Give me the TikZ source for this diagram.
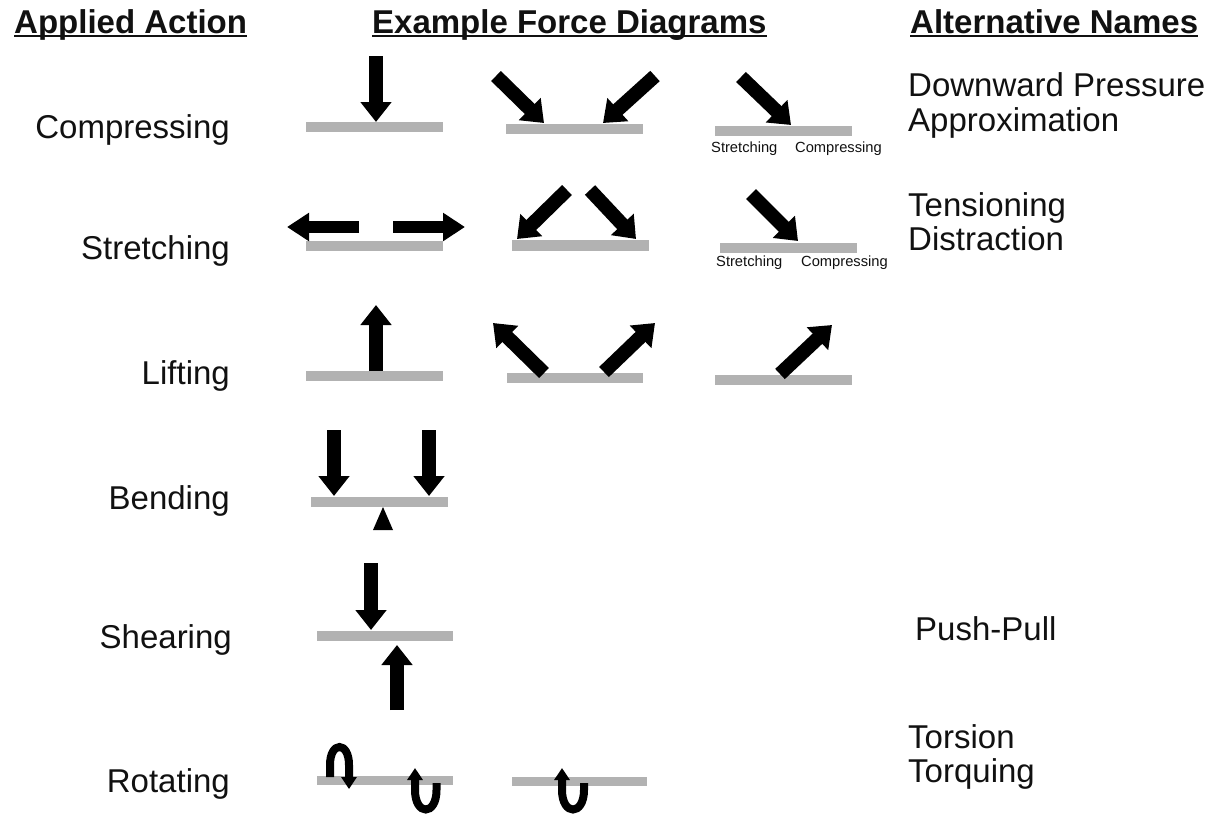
\documentclass[tikz,border=0pt]{standalone}
\usepackage{fontspec}
\setmainfont{Liberation Sans}
\usetikzlibrary{arrows.meta}
\definecolor{barcol}{RGB}{178,178,178}
\definecolor{inkcol}{RGB}{17,17,17}
\begin{document}
\begin{tikzpicture}[x=1pt,y=-1pt,
  head/.style={inner sep=0pt, anchor=base west, font=\fontsize{33}{35}\selectfont\bfseries, text=inkcol},
  label/.style={inner sep=0pt, anchor=base east, font=\fontsize{33}{35}\selectfont, text=inkcol},
  altname/.style={inner sep=0pt, anchor=base west, font=\fontsize{33}{35}\selectfont, text=inkcol},
  tiny/.style={inner sep=0pt, anchor=base west, font=\fontsize{14.7}{16}\selectfont, text=inkcol},
  force/.style={draw=black, line width=14pt, -{Triangle[length=20pt,width=30pt]}},
  thinforce/.style={draw=black, line width=12.5pt, -{Triangle[length=22pt,width=27pt]}},
  twist/.style={draw=black, line width=8pt, -{Triangle[length=12pt,width=15pt]}},
  beam/.style={fill=barcol}]

\fill[white] (0,0) rectangle (1212,814);
\useasboundingbox (0,0) rectangle (1212,814);

% column headings
\node[head] (h1) at (14,33) {Applied Action};
\node[head] (h2) at (372,33) {Example Force Diagrams};
\node[head] (h3) at (910,33) {Alternative Names};
\foreach \h in {h1,h2,h3}
  \draw[inkcol, line width=2pt] ([yshift=-3pt]\h.base west) -- ([yshift=-3pt]\h.base east);

% applied actions
\node[label] (compress) at (230,138) {Compressing};
\node[label] (stretch)  at (230,259) {Stretching};
\node[label] (lift)     at (230,384) {Lifting};
\node[label] (bend)     at (230,509) {Bending};
\node[label] (shear)    at (232,648) {Shearing};
\node[label] (rotate)   at (230,792) {Rotating};

% alternative names
\node[altname] (alt1a) at (908,96)  {Downward Pressure};
\node[altname] (alt1b) at (908,131) {Approximation};
\node[altname] (alt2a) at (908,216) {Tensioning};
\node[altname] (alt2b) at (908,250) {Distraction};
\node[altname] (alt5)  at (915,640) {Push-Pull};
\node[altname] (alt6a) at (908,748) {Torsion};
\node[altname] (alt6b) at (908,782) {Torquing};

% ---- compressing
\fill[beam] (306,122) rectangle (443,132);
\draw[force] (376,56) -- (376,122);
\fill[beam] (506,124) rectangle (643,134);
\draw[force] (496,76) -- (544,123);
\draw[force] (655,76) -- (603,123);
\fill[beam] (715,126) rectangle (852,136);
\draw[force] (741,77) -- (791,125);
\node[tiny] (c3s) at (711,152.5) {Stretching};
\node[tiny] (c3c) at (795,152.5) {Compressing};

% ---- stretching
\fill[beam] (306,241) rectangle (443,251);
\draw[thinforce] (359,227) -- (287,227);
\draw[thinforce] (393,227) -- (465,227);
\fill[beam] (512,240) rectangle (649,251);
\draw[force] (567,190) -- (517,239);
\draw[force] (590,190) -- (636,239);
\fill[beam] (720,243) rectangle (857,253);
\draw[force] (751,194) -- (798,241);
\node[tiny] (s3s) at (716,266.5) {Stretching};
\node[tiny] (s3c) at (801,266.5) {Compressing};

% ---- lifting
\fill[beam] (306,371) rectangle (443,381);
\draw[force] (376,371) -- (376,305);
\fill[beam] (507,373) rectangle (643,383);
\draw[force] (544,373) -- (493,323);
\draw[force] (604,372) -- (655,323);
\fill[beam] (715,375) rectangle (852,385);
\draw[force] (780,374) -- (832,325);

% ---- bending
\fill[beam] (311,497) rectangle (448,507);
\draw[force] (334,430) -- (334,496);
\draw[force] (429,430) -- (429,496);
\fill[black] (383,507) -- (393,530) -- (373,530) -- cycle;

% ---- shearing
\fill[beam] (317,631) rectangle (453,641);
\draw[force] (371,563) -- (371,630);
\draw[force] (397,710) -- (397,645);

% ---- rotating
\fill[beam] (317,776) rectangle (453,785);
\draw[twist] (330,777) -- (330,765) .. controls (330,741) and (349,741) .. (349,765) -- (349,789);
\draw[twist] (436.5,783) -- (436.5,790) .. controls (436.5,816) and (415,816) .. (415,790) -- (415,768);
\fill[beam] (512,777) rectangle (647,786);
\draw[twist] (584,783) -- (584,790) .. controls (584,816) and (562,816) .. (562,790) -- (562,768);

\end{tikzpicture}
\end{document}
